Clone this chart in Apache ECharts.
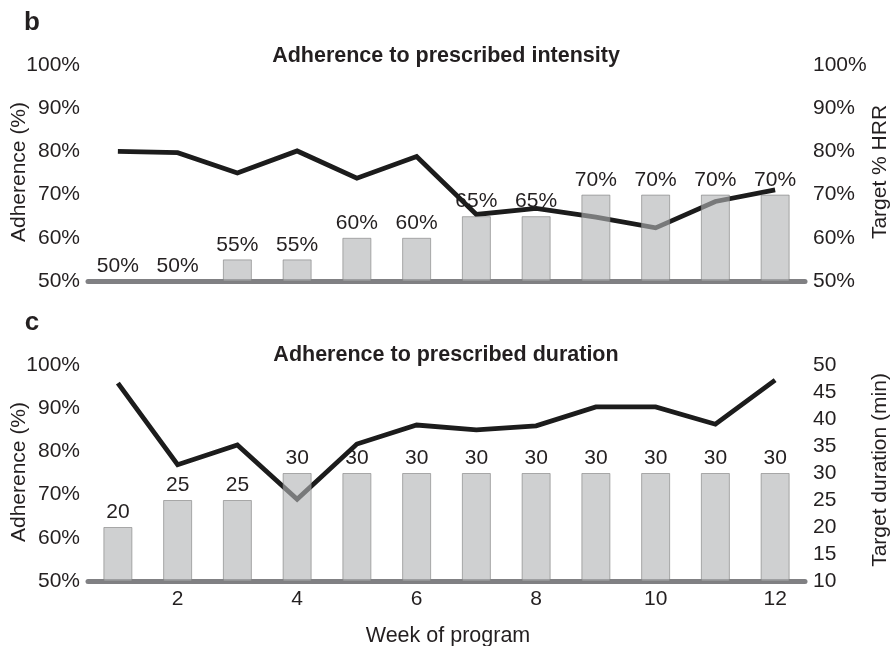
<!DOCTYPE html>
<html>
<head>
<meta charset="utf-8">
<script src="https://cdn.jsdelivr.net/npm/echarts@6/dist/echarts.min.js"></script>
<style>
  html, body { margin: 0; padding: 0; background: #fff; }
  #chart { width: 893px; height: 646px; }
</style>
</head>
<body>
<div id="chart"></div>
<script>
// Week numbers along the x axis
const weeks = ['1', '2', '3', '4', '5', '6', '7', '8', '9', '10', '11', '12'];

// Panel b: intensity
const intensityTarget = [50, 50, 55, 55, 60, 60, 65, 65, 70, 70, 70, 70];          // target % HRR
const intensityAdherence = [80, 79.7, 75, 80.1, 73.8, 78.8, 65.4, 66.8, 64.8, 62.3, 68.4, 71.1]; // adherence %

// Panel c: duration
const durationTarget = [20, 25, 25, 30, 30, 30, 30, 30, 30, 30, 30, 30];           // target minutes
const durationAdherence = [95.8, 76.9, 81.5, 68.9, 81.7, 86.1, 85, 85.9, 90.3, 90.3, 86.3, 96.5]; // adherence %

// Tick settings
const adherenceTicks = { min: 50, max: 100, interval: 10 };
const hrrTicks = { min: 50, max: 100, interval: 10 };
const minuteTicks = { min: 10, max: 50, interval: 5 };

const FONT = '"Liberation Sans", Arial, Helvetica, sans-serif';
const TXT = '#231f20';
const BAR_FILL = 'rgb(178,179,181)';
const LINE_COLOR = '#1c1c1c';
const AXIS_GRAY = '#808083';
const FS = 21;

const chart = echarts.init(document.getElementById('chart'), null, { renderer: 'canvas' });

function yAxisBase(grid, pos, ticks, fmt) {
  return {
    type: 'value', gridIndex: grid, position: pos,
    min: ticks.min, max: ticks.max, interval: ticks.interval,
    splitLine: { show: false }, axisLine: { show: false }, axisTick: { show: false },
    axisLabel: { color: TXT, fontFamily: FONT, fontSize: FS, margin: 8, formatter: fmt }
  };
}

function xAxisBase(grid, showLabels) {
  return {
    type: 'category', gridIndex: grid, data: weeks,
    axisLine: { show: true, onZero: false, lineStyle: { color: AXIS_GRAY, width: 5 } },
    axisTick: { show: false },
    axisLabel: {
      show: showLabels, color: TXT, fontFamily: FONT, fontSize: FS, margin: 8,
      interval: (i) => i % 2 === 1
    }
  };
}

function labelSeries(xi, yi, data, fmt) {
  // value labels sit beneath the adherence line
  return {
    type: 'scatter', xAxisIndex: xi, yAxisIndex: yi, data: data, z: 1,
    symbolSize: 0, itemStyle: { color: TXT, opacity: 1 }, silent: true,
    label: { show: true, position: 'top', distance: 4, color: TXT, opacity: 1, fontFamily: FONT, fontSize: FS, formatter: fmt }
  };
}

function barSeries(xi, yi, data) {
  return {
    type: 'bar', xAxisIndex: xi, yAxisIndex: yi, data: data, z: 3, barWidth: 29,
    itemStyle: { color: BAR_FILL, opacity: 0.62, borderColor: '#7f7f80', borderWidth: 1 },
    silent: true
  };
}

function lineSeries(xi, yi, data) {
  return {
    type: 'line', xAxisIndex: xi, yAxisIndex: yi, data: data, z: 2,
    symbol: 'none', lineStyle: { color: LINE_COLOR, width: 4.8, join: 'miter' }, silent: true
  };
}

function text(x, y, str, opts) {
  return {
    type: 'text', x: x, y: y, z: 10,
    style: Object.assign({ text: str, fill: TXT, font: FS + 'px ' + FONT, align: 'center', verticalAlign: 'middle' }, opts || {})
  };
}

const option = {
  animation: false,
  backgroundColor: '#fff',
  grid: [
    { left: 88, right: 88, top: 65, height: 216 },
    { left: 88, right: 88, top: 365, height: 216 }
  ],
  xAxis: [xAxisBase(0, false), xAxisBase(1, true)],
  yAxis: [
    yAxisBase(0, 'left', adherenceTicks, '{value}%'),
    yAxisBase(0, 'right', hrrTicks, '{value}%'),
    yAxisBase(1, 'left', adherenceTicks, '{value}%'),
    yAxisBase(1, 'right', minuteTicks, '{value}')
  ],
  series: [
    labelSeries(0, 1, intensityTarget, '{c}%'),
    lineSeries(0, 0, intensityAdherence),
    barSeries(0, 1, intensityTarget),
    labelSeries(1, 3, durationTarget, '{c}'),
    lineSeries(1, 2, durationAdherence),
    barSeries(1, 3, durationTarget)
  ],
  graphic: [
    text(32, 23, 'b', { font: 'bold 26px ' + FONT }),
    text(32, 323, 'c', { font: 'bold 26px ' + FONT }),
    text(446, 56, 'Adherence to prescribed intensity', { font: 'bold 21.5px ' + FONT }),
    text(446, 355, 'Adherence to prescribed duration', { font: 'bold 21.5px ' + FONT }),
    Object.assign(text(19, 172, 'Adherence (%)'), { rotation: Math.PI / 2 }),
    Object.assign(text(19, 472, 'Adherence (%)'), { rotation: Math.PI / 2 }),
    Object.assign(text(880, 172, 'Target % HRR'), { rotation: Math.PI / 2 }),
    Object.assign(text(880, 470, 'Target duration (min)'), { rotation: Math.PI / 2 }),
    text(448, 636, 'Week of program', { font: '21.5px ' + FONT })
  ]
};

chart.setOption(option);
</script>
</body>
</html>
